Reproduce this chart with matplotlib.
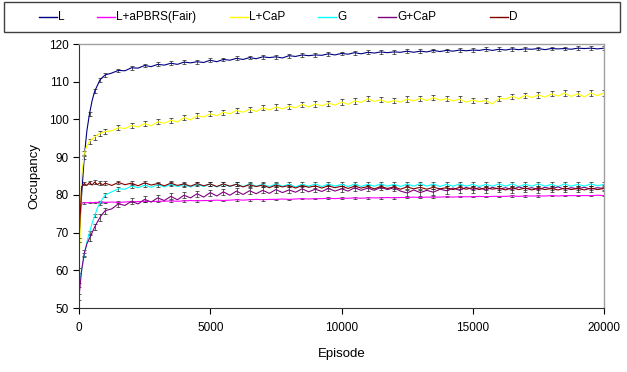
import numpy as np
import matplotlib
matplotlib.use("Agg")
import matplotlib.pyplot as plt
from matplotlib.patches import Rectangle
from matplotlib.lines import Line2D

plt.rcParams["font.family"] = ["Liberation Sans", "DejaVu Sans"]

# episodes: every 100 up to 1000, then every 250
EPISODES = [0, 100, 200, 300, 400, 500, 600, 700, 800, 900, 1000] + list(range(1250, 20001, 250))

L = [68, 80, 90, 97, 101.5, 105, 107.5, 109, 110.5, 111.2, 111.8,
     112.3, 113.0, 112.9, 113.7,
     113.6, 114.3, 114.0, 114.6,
     114.4, 114.9, 114.6, 115.2,
     115.0, 115.3, 115.1, 115.7,
     115.3, 115.9, 115.7, 116.2,
     115.9, 116.4, 116.1, 116.6,
     116.4, 116.6, 116.3, 116.9,
     116.7, 117.1, 116.9, 117.1,
     117.0, 117.4, 117.1, 117.5,
     117.3, 117.7, 117.4, 117.8,
     117.6, 117.9, 117.7, 117.9,
     117.8, 118.1, 117.8, 118.1,
     117.9, 118.3, 118.0, 118.3,
     118.1, 118.4, 118.2, 118.4,
     118.3, 118.6, 118.3, 118.6,
     118.4, 118.7, 118.5, 118.7,
     118.6, 118.8, 118.5, 118.8,
     118.7, 118.8, 118.6, 118.9,
     118.8, 118.9, 118.7, 118.9]

L_FAIR = [77.5, 77.8, 77.9, 77.9, 78.0, 77.9, 78.0, 78.0, 78.0, 78.1, 78.0,
          78.1, 78.0, 78.1, 78.2,
          78.2, 78.3, 78.2, 78.3,
          78.3, 78.4, 78.3, 78.4,
          78.5, 78.4, 78.5, 78.5,
          78.6, 78.5, 78.6, 78.7,
          78.6, 78.7, 78.8, 78.7,
          78.8, 78.8, 78.9, 78.8,
          78.9, 79.0, 78.9, 79.0,
          79.0, 79.1, 79.0, 79.1,
          79.1, 79.2, 79.1, 79.2,
          79.2, 79.2, 79.3, 79.2,
          79.3, 79.3, 79.4, 79.3,
          79.4, 79.4, 79.4, 79.5,
          79.4, 79.5, 79.5, 79.5,
          79.6, 79.5, 79.6, 79.6,
          79.6, 79.7, 79.6, 79.7,
          79.7, 79.7, 79.7, 79.8,
          79.7, 79.8, 79.8, 79.8,
          79.8, 79.8, 79.9, 79.8]

L_CAP = [60, 85, 91, 93, 94.2, 94.8, 95.3, 95.9, 96.3, 96.5, 96.8,
         97.0, 97.8, 97.6, 98.4,
         98.0, 98.9, 98.3, 99.4,
         99.0, 99.8, 99.3, 100.5,
         99.9, 101.0, 100.6, 101.5,
         101.0, 101.9, 101.5, 102.4,
         101.9, 102.7, 102.1, 103.1,
         102.5, 103.3, 102.8, 103.5,
         103.1, 104.0, 103.3, 104.1,
         103.6, 104.3, 103.8, 104.6,
         104.0, 104.9, 104.5, 105.5,
         104.8, 105.2, 104.5, 105.0,
         104.6, 105.4, 104.9, 105.6,
         105.0, 105.8, 105.1, 105.5,
         104.9, 105.4, 104.6, 105.1,
         104.7, 105.0, 104.1, 105.6,
         105.4, 106.1, 105.5, 106.4,
         105.8, 106.5, 105.9, 106.8,
         106.2, 107.0, 106.1, 106.8,
         106.0, 107.0, 106.3, 107.0]

G = [56, 60, 64, 67.5, 70, 72.5, 74.5, 76.5, 77.8, 79.0, 80.0,
     80.8, 81.6, 81.5, 82.3,
     81.9, 82.6, 82.0, 82.7,
     82.1, 82.8, 82.2, 82.7,
     82.1, 82.8, 82.2, 82.9,
     82.1, 82.8, 82.2, 82.9,
     82.2, 82.9, 82.3, 82.8,
     82.2, 82.9, 82.3, 82.8,
     82.1, 82.8, 82.3, 82.9,
     82.2, 82.9, 82.3, 82.8,
     82.2, 82.9, 82.2, 82.8,
     82.3, 82.9, 82.3, 82.8,
     82.2, 82.9, 82.3, 83.0,
     82.3, 82.9, 82.2, 82.8,
     82.3, 82.9, 82.3, 82.8,
     82.2, 82.8, 82.3, 82.9,
     82.3, 82.9, 82.2, 82.8,
     82.3, 82.9, 82.3, 82.8,
     82.2, 82.9, 82.3, 82.8,
     82.3, 82.9, 82.4, 82.8]

G_CAP = [53, 60, 64.5, 67, 68.5, 70, 71.5, 72.8, 74, 75, 75.8,
         76.3, 77.6, 77.2, 78.3,
         77.6, 78.8, 78.1, 79.2,
         78.5, 79.6, 78.7, 79.9,
         79.2, 80.3, 79.4, 80.6,
         79.7, 80.8, 79.9, 81.0,
         80.1, 81.1, 80.3, 81.2,
         80.4, 81.4, 80.6, 81.3,
         80.7, 81.6, 80.8, 81.5,
         80.9, 81.7, 81.0, 81.6,
         81.0, 81.9, 81.2, 81.8,
         81.2, 82.0, 81.4, 81.9,
         81.0, 80.5, 81.3, 80.6,
         81.2, 80.7, 81.5, 81.1,
         81.8, 81.2, 82.0, 81.4,
         81.9, 81.3, 82.0, 81.5,
         81.9, 81.4, 82.1, 81.6,
         81.9, 81.4, 82.0, 81.6,
         82.1, 81.5, 81.9, 81.6,
         82.0, 81.5, 81.9, 81.7]

D = [68, 82.2, 83.0, 82.5, 83.3, 82.6, 83.4, 82.7, 83.2, 82.6, 83.1,
     82.5, 83.3, 82.7, 83.1,
     82.4, 83.2, 82.6, 83.0,
     82.4, 83.1, 82.5, 82.9,
     82.3, 83.0, 82.4, 82.9,
     82.2, 82.9, 82.3, 82.8,
     82.1, 82.7, 82.2, 82.6,
     81.9, 82.6, 82.1, 82.5,
     81.8, 82.5, 82.0, 82.4,
     81.8, 82.4, 81.9, 82.3,
     81.7, 82.3, 81.8, 82.2,
     81.6, 82.2, 81.7, 82.1,
     81.5, 82.1, 81.6, 82.0,
     81.5, 82.0, 81.6, 81.9,
     81.4, 82.0, 81.5, 81.9,
     81.4, 81.9, 81.5, 81.8,
     81.3, 81.9, 81.4, 81.8,
     81.3, 81.8, 81.4, 81.7,
     81.3, 81.8, 81.4, 81.7,
     81.3, 81.8, 81.4, 81.7]

NAMES = ["L", "L+aPBRS(Fair)", "L+CaP", "G", "G+CaP", "D"]
SERIES = [L, L_FAIR, L_CAP, G, G_CAP, D]
ERRORS = [0.5, 0.2, 0.7, 0.5, 0.8, 0.5]   # approx. half-width of error bars
COLORS = ["#000080", "#FF00FF", "#FFFF00", "#00FFFF", "#800080", "#800000"]
LEGEND_X = [39, 97, 230, 318, 378, 490]   # legend entry positions (px)

fig = plt.figure(figsize=(6.27, 3.72), dpi=100)
ax = fig.add_axes([79 / 627, 1 - 308 / 372, 525 / 627, 264 / 372])

x = np.array(EPISODES)
for name, ys, err, col in zip(NAMES, SERIES, ERRORS, COLORS):
    ax.errorbar(x, ys, yerr=err, errorevery=2, color=col, lw=0.8,
                ecolor="#202020", elinewidth=0.5, capsize=1.6, capthick=0.5, label=name)

ax.set_xlim(0, 20000)
ax.set_ylim(50, 120)
ax.set_xticks([0, 5000, 10000, 15000, 20000])
ax.set_yticks(range(50, 121, 10))
ax.tick_params(direction="out", length=4, width=0.8, labelsize=8.5, colors="black")
ax.tick_params(axis="x", pad=6)
for s in ["left", "bottom"]:
    ax.spines[s].set_color("#333333")
    ax.spines[s].set_linewidth(0.8)
for s in ["top", "right"]:
    ax.spines[s].set_color("#a0a0a0")
    ax.spines[s].set_linewidth(1.0)

ax.set_xlabel("Episode", fontsize=9.5, labelpad=10)
ax.set_ylabel("Occupancy", fontsize=9.5, labelpad=6)

# legend box across the top, entries placed like the original
fig.patches.append(Rectangle((4 / 627, 1 - 32 / 372), 616 / 627, 30 / 372,
                             transform=fig.transFigure, fill=False,
                             edgecolor="#404040", lw=1.0))
ly = 1 - 17 / 372
for name, col, px in zip(NAMES, COLORS, LEGEND_X):
    fig.lines.append(Line2D([px / 627, (px + 18) / 627], [ly, ly], color=col, lw=1.0,
                            transform=fig.transFigure))
    fig.text((px + 19) / 627, ly, name, fontsize=8.5, va="center", ha="left")

fig.savefig("out.png", dpi=100)
